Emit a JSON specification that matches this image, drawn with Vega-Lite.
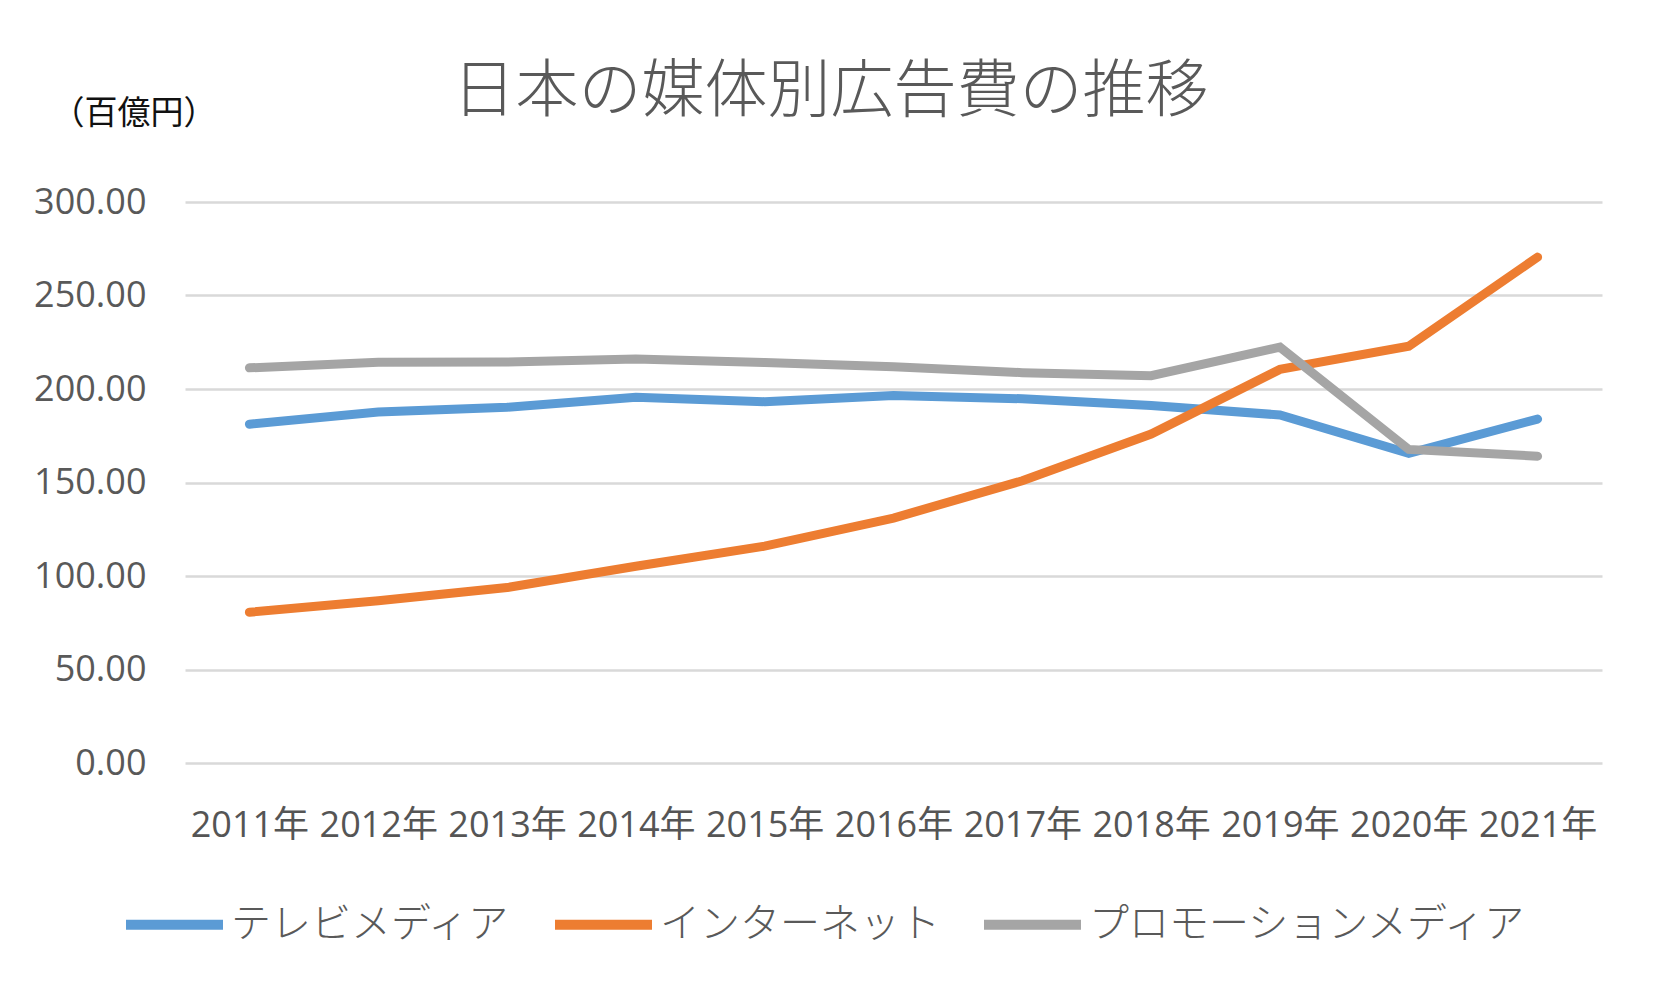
{
  "$schema": "https://vega.github.io/schema/vega-lite/v6.json",
  "width": 1417,
  "height": 561,
  "autosize": {"type": "none"},
  "padding": {"left": 185, "top": 202, "right": 57, "bottom": 236},
  "background": "white",
  "title": {
    "text": "日本の媒体別広告費の推移",
    "font": "Noto Sans CJK JP",
    "fontSize": 63,
    "fontWeight": 300,
    "color": "#595959",
    "anchor": "middle",
    "frame": "group",
    "dx": -63,
    "dy": 37,
    "offset": 10
  },
  "data": {
    "values": [
      {"year": "2011年", "media": "テレビメディア", "value": 181.19},
      {"year": "2012年", "media": "テレビメディア", "value": 187.70},
      {"year": "2013年", "media": "テレビメディア", "value": 190.23},
      {"year": "2014年", "media": "テレビメディア", "value": 195.64},
      {"year": "2015年", "media": "テレビメディア", "value": 193.23},
      {"year": "2016年", "media": "テレビメディア", "value": 196.57},
      {"year": "2017年", "media": "テレビメディア", "value": 194.78},
      {"year": "2018年", "media": "テレビメディア", "value": 191.23},
      {"year": "2019年", "media": "テレビメディア", "value": 186.12},
      {"year": "2020年", "media": "テレビメディア", "value": 165.59},
      {"year": "2021年", "media": "テレビメディア", "value": 183.93},
      {"year": "2011年", "media": "インターネット", "value": 80.62},
      {"year": "2012年", "media": "インターネット", "value": 86.80},
      {"year": "2013年", "media": "インターネット", "value": 93.81},
      {"year": "2014年", "media": "インターネット", "value": 105.19},
      {"year": "2015年", "media": "インターネット", "value": 115.94},
      {"year": "2016年", "media": "インターネット", "value": 131.00},
      {"year": "2017年", "media": "インターネット", "value": 150.94},
      {"year": "2018年", "media": "インターネット", "value": 175.89},
      {"year": "2019年", "media": "インターネット", "value": 210.48},
      {"year": "2020年", "media": "インターネット", "value": 222.90},
      {"year": "2021年", "media": "インターネット", "value": 270.52},
      {"year": "2011年", "media": "プロモーションメディア", "value": 211.3},
      {"year": "2012年", "media": "プロモーションメディア", "value": 214.24},
      {"year": "2013年", "media": "プロモーションメディア", "value": 214.46},
      {"year": "2014年", "media": "プロモーションメディア", "value": 216.10},
      {"year": "2015年", "media": "プロモーションメディア", "value": 214.17},
      {"year": "2016年", "media": "プロモーションメディア", "value": 211.84},
      {"year": "2017年", "media": "プロモーションメディア", "value": 208.75},
      {"year": "2018年", "media": "プロモーションメディア", "value": 207.14},
      {"year": "2019年", "media": "プロモーションメディア", "value": 222.39},
      {"year": "2020年", "media": "プロモーションメディア", "value": 167.68},
      {"year": "2021年", "media": "プロモーションメディア", "value": 164.08}
    ]
  },
  "mark": {"type": "line", "strokeWidth": 9, "strokeCap": "round"},
  "encoding": {
    "x": {
      "field": "year",
      "type": "ordinal",
      "sort": null,
      "axis": {
        "title": null,
        "labelAngle": 0,
        "labelFont": "Open Sans, Noto Sans CJK JP",
        "labelFontSize": 36,
        "labelColor": "#555555",
        "labelPadding": 45,
        "ticks": false,
        "domain": false,
        "grid": false
      }
    },
    "y": {
      "field": "value",
      "type": "quantitative",
      "scale": {"domain": [0, 300]},
      "axis": {
        "values": [0, 50, 100, 150, 200, 250, 300],
        "format": ".2f",
        "labelFont": "Open Sans",
        "labelFontSize": 36,
        "labelColor": "#595959",
        "labelPadding": 39,
        "ticks": false,
        "domain": false,
        "gridColor": "#D9D9D9",
        "gridWidth": 2.5,
        "title": "（百億円）",
        "titleAngle": 0,
        "titleX": -134,
        "titleY": -89,
        "titleAlign": "left",
        "titleBaseline": "middle",
        "titleFont": "Noto Sans CJK JP",
        "titleFontSize": 33,
        "titleFontWeight": "normal",
        "titleColor": "#111111"
      }
    },
    "color": {
      "field": "media",
      "type": "nominal",
      "scale": {
        "domain": ["テレビメディア", "インターネット", "プロモーションメディア"],
        "range": ["#5B9BD5", "#ED7D31", "#A5A5A5"]
      },
      "legend": {
        "title": null,
        "orient": "none",
        "legendX": -64,
        "legendY": 669,
        "direction": "horizontal",
        "symbolType": "stroke",
        "symbolStrokeWidth": 10,
        "symbolSize": 9409,
        "labelFont": "Noto Sans CJK JP",
        "labelFontSize": 40,
        "labelFontWeight": 300,
        "labelColor": "#595959",
        "labelOffset": 3,
        "labelLimit": 0,
        "columnPadding": 24
      }
    }
  },
  "config": {"view": {"stroke": null}}
}
